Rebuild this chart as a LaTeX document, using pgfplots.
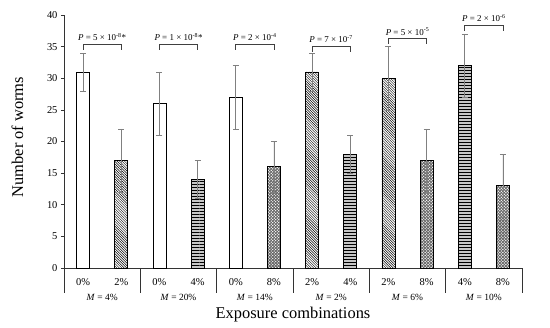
\documentclass[border=0pt]{standalone}
\usepackage{pgfplots}
\pgfplotsset{compat=1.18}
\usepackage{fontspec}
\setmainfont{Liberation Serif}
\usetikzlibrary{patterns}
\pgfdeclarepatternformonly{bigdots}{\pgfqpoint{-1pt}{-1pt}}{\pgfqpoint{4pt}{4pt}}{\pgfqpoint{3pt}{3pt}}{%
  \pgfpathcircle{\pgfqpoint{0.75pt}{0.75pt}}{0.7pt}%
  \pgfpathcircle{\pgfqpoint{2.25pt}{2.25pt}}{0.7pt}%
  \pgfusepath{fill}}
\pgfdeclarepatternformonly{densenw}{\pgfqpoint{-1pt}{-1pt}}{\pgfqpoint{3.5pt}{3.5pt}}{\pgfqpoint{2.5pt}{2.5pt}}{%
  \pgfsetlinewidth{0.45pt}%
  \pgfpathmoveto{\pgfqpoint{0pt}{2.5pt}}\pgfpathlineto{\pgfqpoint{2.5pt}{0pt}}%
  \pgfusepath{stroke}}
\newcommand{\pbr}[3]{%
  \draw[black!75, line width=0.6pt] (axis cs:#1+0.25,#2-0.9) -- (axis cs:#1+0.25,#2) -- (axis cs:#1+0.75,#2) -- (axis cs:#1+0.75,#2-0.9);
  \node[anchor=south, font=\fontsize{9}{10}\selectfont, inner sep=1bp] at (axis cs:#1+0.5,#2+0.3) {\textit{P} = #3};}
\newcommand{\mlab}[2]{\node[font=\fontsize{9.5}{10}\selectfont] at (axis cs:#1,-4.6) {\textit{M} = #2\%};}
\newcommand{\sep}[1]{\draw[black!80, line width=0.8pt] (axis cs:#1,0) -- (axis cs:#1,-3.95);}
\begin{document}
\begin{tikzpicture}
\path[use as bounding box] (-64bp,-60bp) rectangle (486bp,268bp);
\begin{axis}[
  scale only axis, width=458bp, height=253bp,
  xmin=0, xmax=6, ymin=0, ymax=40,
  axis x line=bottom, axis y line=left,
  axis line style={-, line width=0.8pt, black!80},
  ytick={0,5,...,40},
  xtick={0.25,0.75,1.25,1.75,2.25,2.75,3.25,3.75,4.25,4.75,5.25,5.75},
  xticklabels={0\%,2\%,0\%,4\%,0\%,8\%,2\%,4\%,2\%,8\%,4\%,8\%},
  x tick style={draw=none},
  y tick style={black!80, line width=0.6pt},
  tick align=outside, major tick length=3bp,
  tick label style={font=\fontsize{10.5}{12}\selectfont},
  xticklabel style={yshift=-4bp},
  /pgf/number format/assume math mode=true,
  ybar, bar width=13bp, bar shift=0pt,
  clip=false,
  error bars/y dir=both, error bars/y explicit,
  error bars/error bar style={gray, line width=0.7pt},
  error bars/error mark options={rotate=90, gray, mark size=3bp, line width=0.7pt},
]
% 0% : white
\addplot[draw=black, line width=0.8pt, fill=white] coordinates {
  (0.25,31) +- (0,3)
  (1.25,26) +- (0,5)
  (2.25,27) +- (0,5)
};
% 2% : diagonal
\addplot[draw=black, line width=0.8pt, pattern=densenw] coordinates {
  (0.75,17) +- (0,5)
  (3.25,31) +- (0,3)
  (4.25,30) +- (0,5)
};
% 4% : horizontal stripes
\addplot[draw=black, line width=0.8pt, fill=gray!45, postaction={pattern=horizontal lines}] coordinates {
  (1.75,14) +- (0,3)
  (3.75,18) +- (0,3)
  (5.25,32) +- (0,5)
};
% 8% : dots
\addplot[draw=black, line width=0.8pt, fill=black!60, postaction={pattern=bigdots, pattern color=white}] coordinates {
  (2.75,16) +- (0,4)
  (4.75,17) +- (0,5)
  (5.75,13) +- (0,5)
};
\sep{0}\sep{1}\sep{2}\sep{3}\sep{4}\sep{5}\sep{6}
\mlab{0.5}{4}\mlab{1.5}{20}\mlab{2.5}{14}\mlab{3.5}{2}\mlab{4.5}{6}\mlab{5.5}{10}
\pbr{0}{35.4}{5 × 10\textsuperscript{-8}*}
\pbr{1}{35.4}{1 × 10\textsuperscript{-8}*}
\pbr{2}{35.4}{2 × 10\textsuperscript{-4}}
\pbr{3}{35.1}{7 × 10\textsuperscript{-7}}
\pbr{4}{36.3}{5 × 10\textsuperscript{-5}}
\pbr{5}{38.4}{2 × 10\textsuperscript{-6}}
\node[font=\fontsize{16.5}{18}\selectfont] at (axis cs:3,-7.4) {Exposure combinations};
\node[rotate=90, font=\fontsize{16.5}{18}\selectfont] at (axis cs:-0.61,20.7) {Number of worms};
\end{axis}
\end{tikzpicture}
\end{document}
